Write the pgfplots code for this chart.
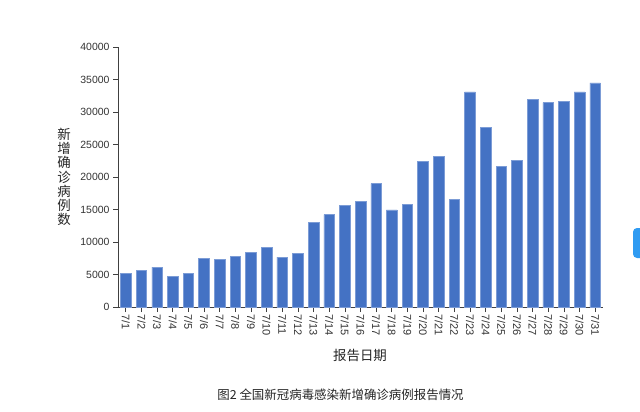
\documentclass[border=0pt]{standalone}
\usepackage{pgfplots}
\pgfplotsset{compat=1.18}
\usepackage{fontspec}
\setmainfont{Liberation Sans}
\newfontfamily\cjk{Noto Sans CJK SC}
\definecolor{barblue}{HTML}{4472C4}
\definecolor{iconblue}{HTML}{2F9BF2}
\begin{document}
\begin{tikzpicture}[x=1bp,y=1bp]
\path[use as bounding box, fill=white] (0,0) rectangle (640,411);
\begin{scope}
\clip (0,0) rectangle (640,411);
\fill[iconblue, rounded corners=4bp] (633,153) rectangle (652,183);
\end{scope}
\begin{axis}[
  at={(118bp,104bp)}, anchor=south west,
  scale only axis, width=485bp, height=260bp,
  xmin=-0.5, xmax=30.5, ymin=0, ymax=40000,
  axis x line*=bottom, axis y line*=left,
  axis line style={black!75, line width=0.7pt},
  ybar, bar width=10.6bp,
  xtick={0,...,30},
  xticklabels={7/1,7/2,7/3,7/4,7/5,7/6,7/7,7/8,7/9,7/10,7/11,7/12,7/13,7/14,7/15,7/16,7/17,7/18,7/19,7/20,7/21,7/22,7/23,7/24,7/25,7/26,7/27,7/28,7/29,7/30,7/31},
  xticklabel style={rotate=-90, anchor=west, font=\fontsize{11}{12}\selectfont, text=black!80, inner sep=2bp},
  ytick={0,5000,...,40000},
  scaled y ticks=false,
  yticklabel style={/pgf/number format/1000 sep={}, font=\fontsize{10.5}{12}\selectfont, text=black!80},
  /pgf/number format/assume math mode=true,
  tick align=outside, major tick length=5bp,
  tick style={black!75, line width=0.7pt},
  xlabel={报告日期},
  xlabel style={font=\cjk\fontsize{13.5}{14}\selectfont, at={(axis description cs:0.499,-0.187)}, anchor=center, text=black!85},
  ylabel={新\\增\\确\\诊\\病\\例\\数},
  ylabel style={font=\cjk\fontsize{13.5}{14.3}\selectfont, at={(axis description cs:-0.111,0.5)}, rotate=-90, anchor=center, align=center, text=black!85},
]
\addplot[fill=barblue, draw=barblue!70!white, line width=0.6pt] coordinates {
(0,5220) (1,5680) (2,6140) (3,4710) (4,5220) (5,7470) (6,7320) (7,7830)
(8,8390) (9,9160) (10,7670) (11,8240) (12,13040) (13,14220) (14,15650)
(15,16270) (16,18980) (17,14940) (18,15750) (19,22350) (20,23120)
(21,16520) (22,33100) (23,27570) (24,21590) (25,22610) (26,31970)
(27,31460) (28,31610) (29,33100) (30,34480)
};
\end{axis}
\node[font=\cjk\fontsize{12.5}{14}\selectfont, text=black!85] at (340.5,16) {图2 全国新冠病毒感染新增确诊病例报告情况};
\end{tikzpicture}
\end{document}
